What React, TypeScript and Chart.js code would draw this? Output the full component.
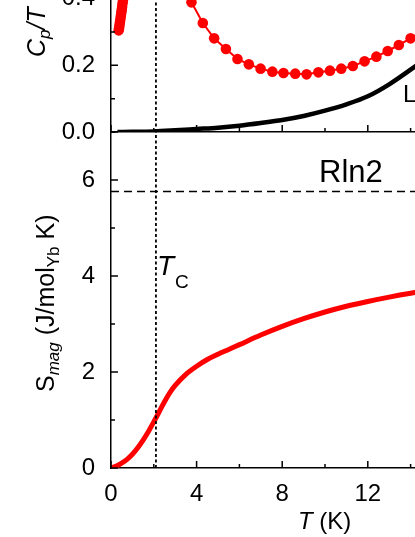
import React, { useEffect, useRef } from 'react';
import { Chart, registerables } from 'chart.js';

Chart.register(...registerables);

const FONT = '"Liberation Sans", Arial, Helvetica, sans-serif';

// ---- Top panel: C_p/T ----
const CP_LOW_T = [0.36, 0.38, 0.40, 0.42, 0.44, 0.46, 0.48, 0.50, 0.52, 0.54, 0.56, 0.58];
const CP_LOW = [0.305, 0.313, 0.322, 0.330, 0.339, 0.348, 0.357, 0.366, 0.376, 0.386, 0.397, 0.408];
const CP_T = [3.22, 3.76, 4.29, 4.82, 5.37, 5.91, 6.44, 6.99, 7.54, 8.06, 8.61, 9.14, 9.69, 10.23, 10.76, 11.30, 11.85, 12.40, 12.93, 13.45, 14.00, 14.54];
const CP = [0.465, 0.389, 0.327, 0.281, 0.249, 0.219, 0.203, 0.190, 0.181, 0.177, 0.175, 0.173, 0.179, 0.184, 0.190, 0.198, 0.212, 0.226, 0.243, 0.261, 0.281, 0.302];
const LAT_T = [0.3, 1, 2, 3, 4, 5, 6, 7, 8, 9, 10, 11, 12, 13, 14, 15, 16];
const LAT = [0.0, 0.0004, 0.0016, 0.005, 0.009, 0.013, 0.019, 0.027, 0.036, 0.048, 0.064, 0.083, 0.107, 0.143, 0.187, 0.235, 0.29];

// ---- Bottom panel: S_mag ----
const S_T = [0, 0.25, 0.5, 0.75, 1.0, 1.25, 1.5, 1.75, 2.0, 2.25, 2.5, 2.75, 3.0, 3.5, 4.0, 4.5, 5.0, 5.5, 6.0, 7.0, 8.0, 9.0, 10.0, 11.0, 12.0, 13.0, 14.0, 15.0];
const S_MAG = [0, 0.04, 0.10, 0.18, 0.285, 0.42, 0.58, 0.76, 0.96, 1.17, 1.38, 1.57, 1.72, 1.95, 2.12, 2.26, 2.37, 2.47, 2.57, 2.77, 2.95, 3.11, 3.25, 3.37, 3.47, 3.56, 3.64, 3.71];

const T_C = 2.1;
const RLN2 = 5.763;

const X_RANGE = [0, 20];
const CP_RANGE = [0, 0.6];
const S_RANGE = [0, 7];
const X_STEP = 2;
const X_LABEL_EVERY = 4;
const CP_STEP = 0.1;
const CP_LABEL_EVERY = 0.2;
const S_STEP = 1;
const S_LABEL_EVERY = 2;

const pts = (xs: number[], ys: number[]) => xs.map((x, i) => ({ x, y: ys[i] }));
const isMult = (v: number, m: number) => Math.abs(v / m - Math.round(v / m)) < 1e-6;

type Part = { text: string; font: string; dy?: number; gap?: number };
type TextItem = { x: number; y: number; rotate?: number; parts: Part[] };

function inwardTicks(xMajor: number, yMajor: number) {
  return {
    id: 'inwardTicks',
    afterDraw(chart: any) {
      const { ctx, chartArea: ca } = chart;
      const xs = chart.scales.x;
      const ys = chart.scales.y;
      ctx.save();
      ctx.strokeStyle = '#000';
      ctx.lineWidth = 1.5;
      ctx.beginPath();
      xs.ticks.forEach((t: any) => {
        const len = isMult(t.value, xMajor) ? 7 : 4;
        const px = xs.getPixelForValue(t.value);
        ctx.moveTo(px, ca.bottom);
        ctx.lineTo(px, ca.bottom - len);
      });
      ys.ticks.forEach((t: any) => {
        const len = isMult(t.value, yMajor) ? 7 : 4;
        const py = ys.getPixelForValue(t.value);
        ctx.moveTo(ca.left, py);
        ctx.lineTo(ca.left + len, py);
      });
      ctx.stroke();
      ctx.restore();
    },
  };
}

function richText(items: TextItem[]) {
  return {
    id: 'richText',
    afterDraw(chart: any) {
      const ctx = chart.ctx;
      items.forEach((item) => {
        ctx.save();
        ctx.translate(item.x, item.y);
        if (item.rotate) ctx.rotate(item.rotate);
        ctx.fillStyle = '#000';
        ctx.textBaseline = 'alphabetic';
        ctx.textAlign = 'left';
        let cx = 0;
        item.parts.forEach((p) => {
          ctx.font = p.font;
          ctx.fillText(p.text, cx, p.dy || 0);
          cx += ctx.measureText(p.text).width + (p.gap || 0);
        });
        ctx.restore();
      });
    },
  };
}

const f = (size: number, italic = false) => `${italic ? 'italic ' : ''}${size}px ${FONT}`;

const AXIS_W = 111;
const TOP_CANVAS_TOP = -68;
const TOP_H = 224;
const TOP_XAXIS_H = 24;
const BOT_CANVAS_TOP = 132;
const BOT_H = 405;
const BOT_XAXIS_H = 69;
const CANVAS_W = 539;

const zeroPad = (s: any) => {
  s.paddingTop = 0;
  s.paddingBottom = 0;
  s.paddingLeft = 0;
  s.paddingRight = 0;
};

function baseScales(xLabels: boolean, xAxisH: number, yRange: number[], yStep: number, yLabelEvery: number, yDigits: number) {
  return {
    x: {
      type: 'linear',
      min: X_RANGE[0],
      max: X_RANGE[1],
      grid: { display: false },
      border: { display: true, color: '#000', width: 1.5 },
      afterFit: (s: any) => { s.height = xAxisH; zeroPad(s); },
      ticks: {
        display: xLabels,
        stepSize: X_STEP,
        autoSkip: false,
        maxRotation: 0,
        minRotation: 0,
        padding: 4,
        color: '#000',
        font: { family: FONT, size: 24 },
        callback: (v: number) => (isMult(v, X_LABEL_EVERY) ? String(v) : ''),
      },
    },
    y: {
      type: 'linear',
      min: yRange[0],
      max: yRange[1],
      grid: { display: false },
      border: { display: true, color: '#000', width: 1.5 },
      afterFit: (s: any) => { s.width = AXIS_W; zeroPad(s); },
      ticks: {
        stepSize: yStep,
        autoSkip: false,
        padding: 8,
        color: '#000',
        font: { family: FONT, size: 24 },
        callback: (v: number) => (isMult(v, yLabelEvery) ? v.toFixed(yDigits) : ''),
      },
    },
  };
}

const commonOpts = {
  animation: false,
  responsive: false,
  devicePixelRatio: 1,
  layout: { padding: 0, autoPadding: false },
  plugins: { legend: { display: false }, tooltip: { enabled: false } },
  events: [],
};

export default function App() {
  const topRef = useRef<HTMLCanvasElement>(null);
  const botRef = useRef<HTMLCanvasElement>(null);

  useEffect(() => {
    const topChart = new Chart(topRef.current as HTMLCanvasElement, {
      type: 'line',
      data: {
        datasets: [
          {
            data: pts([T_C, T_C], CP_RANGE),
            borderColor: '#000',
            borderWidth: 1.8,
            borderDash: [3, 2.5],
            pointRadius: 0,
          },
          {
            data: pts(LAT_T, LAT),
            borderColor: '#000',
            borderWidth: 4.5,
            pointRadius: 0,
            cubicInterpolationMode: 'monotone',
          },
          {
            data: pts(CP_LOW_T, CP_LOW),
            borderColor: '#ff0000',
            backgroundColor: '#ff0000',
            borderWidth: 2,
            pointRadius: 5.3,
            pointBorderWidth: 0,
          },
          {
            data: pts(CP_T, CP),
            borderColor: '#ff0000',
            backgroundColor: '#ff0000',
            borderWidth: 2,
            pointRadius: 5.3,
            pointBorderWidth: 0,
          },
        ],
      } as any,
      options: {
        ...commonOpts,
        scales: baseScales(false, TOP_XAXIS_H, CP_RANGE, CP_STEP, CP_LABEL_EVERY, 1),
      } as any,
      plugins: [
        inwardTicks(X_LABEL_EVERY, CP_LABEL_EVERY),
        richText([
          {
            x: 45,
            y: 57 - TOP_CANVAS_TOP,
            rotate: -Math.PI / 2,
            parts: [
              { text: 'C', font: f(25, true) },
              { text: 'p', font: f(17, true), dy: 5 },
              { text: '/', font: f(25, true) },
              { text: 'T', font: f(25, true) },
              { text: ' (J/mol', font: f(25) },
              { text: 'Yb', font: f(17), dy: 5 },
              { text: ' K', font: f(25) },
              { text: '2', font: f(17), dy: -10 },
              { text: ')', font: f(25) },
            ],
          },
          { x: 403, y: 102 - TOP_CANVAS_TOP, parts: [{ text: 'Lattice', font: f(24) }] },
        ]),
      ],
    });

    const botChart = new Chart(botRef.current as HTMLCanvasElement, {
      type: 'line',
      data: {
        datasets: [
          {
            data: pts([T_C, T_C], S_RANGE),
            borderColor: '#000',
            borderWidth: 1.8,
            borderDash: [3, 2.5],
            pointRadius: 0,
          },
          {
            data: pts(X_RANGE, [RLN2, RLN2]),
            borderColor: '#000',
            borderWidth: 1.5,
            borderDash: [8, 5],
            pointRadius: 0,
          },
          {
            data: pts(S_T, S_MAG),
            borderColor: '#ff0000',
            borderWidth: 5,
            pointRadius: 0,
            cubicInterpolationMode: 'monotone',
          },
        ],
      } as any,
      options: {
        ...commonOpts,
        scales: baseScales(true, BOT_XAXIS_H, S_RANGE, S_STEP, S_LABEL_EVERY, 0),
      } as any,
      plugins: [
        inwardTicks(X_LABEL_EVERY, S_LABEL_EVERY),
        richText([
          {
            x: 54,
            y: 392 - BOT_CANVAS_TOP,
            rotate: -Math.PI / 2,
            parts: [
              { text: 'S', font: f(25) },
              { text: 'mag', font: f(17, true), dy: 5 },
              { text: ' (J/mol', font: f(25) },
              { text: 'Yb', font: f(17), dy: 5 },
              { text: ' K)', font: f(25) },
            ],
          },
          {
            x: 157,
            y: 275 - BOT_CANVAS_TOP,
            parts: [
              { text: 'T', font: f(28, true), gap: 1 },
              { text: 'C', font: f(19), dy: 13 },
            ],
          },
          { x: 319, y: 182 - BOT_CANVAS_TOP, parts: [{ text: 'Rln2', font: f(31) }] },
          {
            x: 298,
            y: 529 - BOT_CANVAS_TOP,
            parts: [
              { text: 'T', font: f(24, true) },
              { text: ' (K)', font: f(24) },
            ],
          },
        ]),
      ],
    });

    return () => {
      topChart.destroy();
      botChart.destroy();
    };
  }, []);

  return (
    <div
      style={{
        position: 'fixed',
        left: 0,
        top: 0,
        width: 415,
        height: 537,
        overflow: 'hidden',
        background: '#fff',
      }}
    >
      <canvas
        ref={topRef}
        width={CANVAS_W}
        height={TOP_H}
        style={{ position: 'absolute', left: 0, top: TOP_CANVAS_TOP, width: CANVAS_W, height: TOP_H }}
      />
      <canvas
        ref={botRef}
        width={CANVAS_W}
        height={BOT_H}
        style={{ position: 'absolute', left: 0, top: BOT_CANVAS_TOP, width: CANVAS_W, height: BOT_H }}
      />
    </div>
  );
}
